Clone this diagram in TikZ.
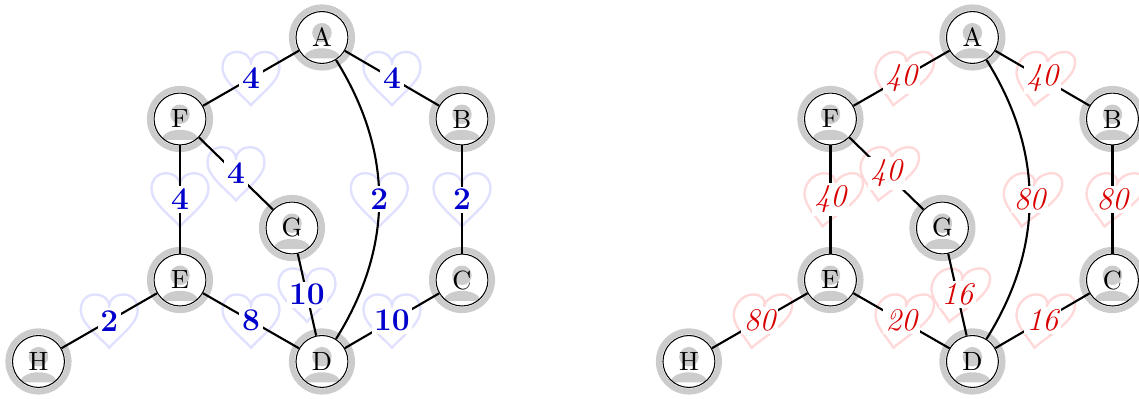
\documentclass[tikz,border=0pt]{standalone}
\usetikzlibrary{positioning}
\pgfdeclarelayer{back}
\pgfsetlayers{back,main}

\begin{document}
\begin{tikzpicture}[
    vertex/.style={circle, draw, thin, fill=white, minimum size=19.7pt, inner sep=0pt,
        path picture={
            \fill[black!20] ([yshift=1.8pt]path picture bounding box.center) circle (3.7pt);
            \fill[black!20] ([shift={(-6.9pt,-7.9pt)}]path picture bounding box.center)
                arc[start angle=180, end angle=0, x radius=6.9pt, y radius=3.8pt] -- cycle;
        }},
    ring/.style={black!20, line width=2.3pt},
    link/.style={thick},
    wblue/.style={fill=white, inner sep=1pt, font=\large\bfseries, text=blue!80!black},
    wred/.style={fill=white, inner sep=1pt, font=\large\itshape, text=red!85!black},
    heart/.pic={
        \draw (0,-0.36) .. controls (-0.12,-0.22) and (-0.38,-0.04) .. (-0.38,0.14)
            .. controls (-0.38,0.28) and (-0.29,0.35) .. (-0.19,0.35)
            .. controls (-0.08,0.35) and (0,0.28) .. (0,0.2)
            .. controls (0,0.28) and (0.08,0.35) .. (0.19,0.35)
            .. controls (0.29,0.35) and (0.38,0.28) .. (0.38,0.14)
            .. controls (0.38,-0.04) and (0.12,-0.22) .. (0,-0.36) -- cycle;
    }
]
\useasboundingbox (0,0) rectangle (15.187,5.307);

% --- Vertices of both graphs ---
\foreach \g/\dx in {l/0, r/8.673}
{
    \foreach \n/\x/\y in {A/4.293/4.807, F/2.4/3.72, B/6.16/3.72, G/3.893/2.267,
                          E/2.4/1.573, C/6.16/1.573, H/0.513/0.487, D/4.293/0.487}
    {
        \node[vertex] (\g\n) at (\x+\dx,\y) {\n};
        \draw[ring] (\g\n.center) circle (11.4pt);
    }
}

% --- Left graph ---
\draw[link] (lA) -- node[wblue] (wl1) {4} (lF);
\draw[link] (lA) -- node[wblue] (wl2) {4} (lB);
\draw[link] (lA) to[bend left=32] node[wblue] (wl3) {2} (lD);
\draw[link] (lF) -- node[wblue] (wl4) {4} (lG);
\draw[link] (lF) -- node[wblue] (wl5) {4} (lE);
\draw[link] (lB) -- node[wblue] (wl6) {2} (lC);
\draw[link] (lG) -- node[wblue] (wl7) {10} (lD);
\draw[link] (lE) -- node[wblue] (wl8) {8} (lD);
\draw[link] (lE) -- node[wblue] (wl9) {2} (lH);
\draw[link] (lC) -- node[wblue] (wl10) {10} (lD);

% --- Right graph ---
\draw[link] (rA) -- node[wred] (wr1) {40} (rF);
\draw[link] (rA) -- node[wred] (wr2) {40} (rB);
\draw[link] (rA) to[bend left=32] node[wred] (wr3) {80} (rD);
\draw[link] (rF) -- node[wred] (wr4) {40} (rG);
\draw[link] (rF) -- node[wred] (wr5) {40} (rE);
\draw[link] (rB) -- node[wred] (wr6) {80} (rC);
\draw[link] (rG) -- node[wred] (wr7) {16} (rD);
\draw[link] (rE) -- node[wred] (wr8) {20} (rD);
\draw[link] (rE) -- node[wred] (wr9) {80} (rH);
\draw[link] (rC) -- node[wred] (wr10) {16} (rD);

% --- Hearts behind the weights ---
\begin{pgfonlayer}{back}
    \foreach \i in {1,...,10}
    {
        \pic[blue!12, line width=0.9pt] at (wl\i) {heart};
        \pic[red!15, line width=0.9pt, xslant=0.3] at (wr\i) {heart};
    }
\end{pgfonlayer}

\end{tikzpicture}
\end{document}
